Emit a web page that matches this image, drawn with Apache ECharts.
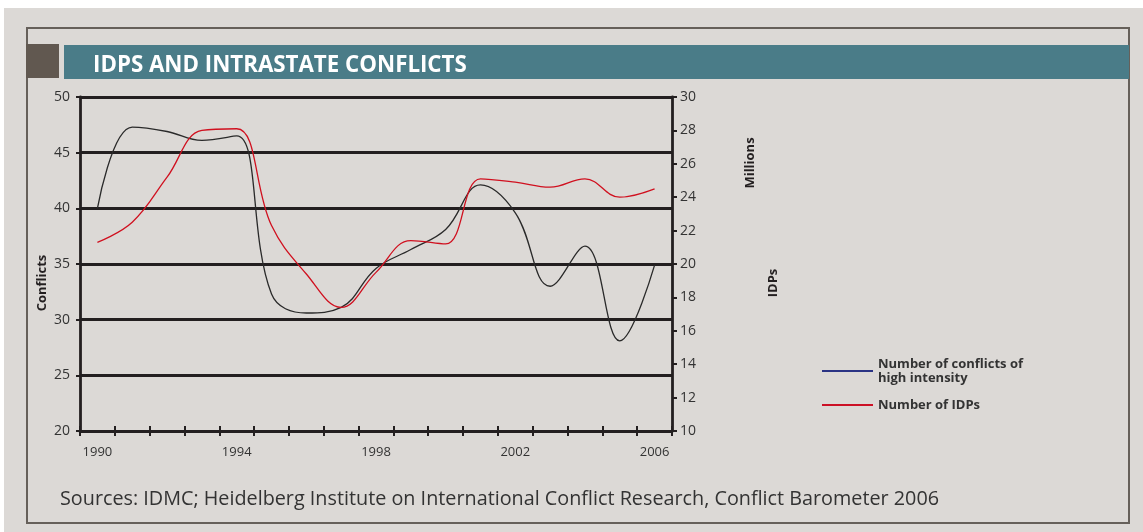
<!DOCTYPE html>
<html>
<head>
	<title>IDPS AND INTRASTATE CONFLICTS</title>
	<script src="https://cdn.jsdelivr.net/npm/echarts@6/dist/echarts.min.js"></script>
	<style type="text/css">
		body{
			margin: 0;
			background-color: #ffffff;
		}
		#chart{
			width: 1143px;
			height: 532px;
		}
	</style>
	<script type="text/javascript">
		// values, one per year
		var years = ['1990','1991','1992','1993','1994','1995','1996','1997','1998','1999','2000','2001','2002','2003','2004','2005','2006'];
		var conflicts = [40, 47.3, 46.9, 46.1, 46.5, 32.3, 30.6, 31.1, 34.6, 36.3, 38.1, 42.1, 39.6, 33.0, 36.6, 28.1, 34.9];
		var idps = [21.3, 22.5, 25.2, 28.0, 28.1, 22.3, 19.4, 17.4, 19.5, 21.4, 21.2, 25.1, 24.9, 24.6, 25.1, 24.0, 24.5];
		var conflictTicks = [20, 50, 5];   // min, max, step
		var idpTicks = [10, 30, 2];

		var ink = '#231f20';
		var font = 'Open Sans';

		function generateChart(){
			var myChart = echarts.init(document.getElementById('chart'));
			var option = {
				backgroundColor: '#dcd9d6',
				animation: false,
				textStyle: {fontFamily: font},
				grid: {left: 80, right: 471, top: 97, bottom: 101},
				legend: {
					orient: 'vertical',
					left: 817,
					top: 347,
					itemWidth: 51,
					itemHeight: 2,
					itemGap: 3,
					icon: 'rect',
					textStyle: {fontSize: 13, fontWeight: 'bold', color: '#333', lineHeight: 14, padding: [0, 0, 0, 0]},
					data: [
						{name: 'Number of conflicts of\nhigh intensity', itemStyle: {color: '#2b3384'}},
						{name: 'Number of IDPs', itemStyle: {color: '#cc1126'}}
					]
				},
				xAxis: [
					{
						type: 'category',
						data: years,
						boundaryGap: true,
						axisLine: {lineStyle: {color: ink, width: 2.8}},
						axisTick: {show: true, length: 5, interval: 0, lineStyle: {color: ink, width: 2}},
						axisLabel: {interval: 3, color: '#333', fontSize: 13, margin: 11}
					},
					{
						// inner half of the ticks, they cross the axis line
						type: 'category',
						data: years,
						position: 'bottom',
						boundaryGap: true,
						axisLine: {show: false},
						axisTick: {show: true, inside: true, length: 5, interval: 0, lineStyle: {color: ink, width: 2}},
						axisLabel: {show: false}
					}
				],
				yAxis: [
					{
						type: 'value',
						min: conflictTicks[0],
						max: conflictTicks[1],
						interval: conflictTicks[2],
						axisLine: {show: true, lineStyle: {color: ink, width: 2.8}},
						axisTick: {show: true, length: 4, lineStyle: {color: ink, width: 2}},
						axisLabel: {color: '#333', fontSize: 14, margin: 10},
						splitLine: {lineStyle: {color: ink, width: 2.8}}
					},
					{
						type: 'value',
						position: 'right',
						min: idpTicks[0],
						max: idpTicks[1],
						interval: idpTicks[2],
						axisLine: {show: true, lineStyle: {color: ink, width: 2.8}},
						axisTick: {show: true, length: 5, lineStyle: {color: ink, width: 2}},
						axisLabel: {color: '#333', fontSize: 14, margin: 8},
						splitLine: {show: false}
					}
				],
				series: [
					{
						name: 'Number of conflicts of\nhigh intensity',
						type: 'line',
						data: conflicts,
						yAxisIndex: 0,
						smooth: 0.4,
						showSymbol: false,
						color: '#2b3384',
						lineStyle: {color: '#2a2a2a', width: 1.3},
						z: 3
					},
					{
						name: 'Number of IDPs',
						type: 'line',
						data: idps,
						yAxisIndex: 1,
						smooth: 0.4,
						showSymbol: false,
						color: '#cc1126',
						lineStyle: {color: '#d0101f', width: 1.3},
						z: 4
					}
				],
				graphic: [
					{type: 'rect', shape: {x: 0, y: 0, width: 1143, height: 8}, style: {fill: '#ffffff'}, silent: true},
					{type: 'rect', shape: {x: 0, y: 0, width: 4, height: 532}, style: {fill: '#ffffff'}, silent: true},
					{type: 'rect', shape: {x: 27, y: 28, width: 1102, height: 495}, style: {fill: 'none', stroke: '#66605a', lineWidth: 2}, silent: true},
					{type: 'rect', shape: {x: 26, y: 44, width: 33, height: 34}, style: {fill: '#615850'}, silent: true},
					{type: 'rect', shape: {x: 64, y: 45, width: 1065, height: 34}, style: {fill: '#4a7c88'}, silent: true},
					{type: 'text', left: 93, top: 45, style: {text: 'IDPS AND INTRASTATE CONFLICTS', fill: '#ffffff', font: 'bold 22.3px "Open Sans"'}, silent: true},
					{type: 'text', x: 42, y: 283, rotation: Math.PI / 2, style: {text: 'Conflicts', fill: ink, font: 'bold 13px "Open Sans"', align: 'center', verticalAlign: 'middle'}, silent: true},
					{type: 'text', x: 750, y: 163, rotation: Math.PI / 2, style: {text: 'Millions', fill: ink, font: 'bold 13px "Open Sans"', align: 'center', verticalAlign: 'middle'}, silent: true},
					{type: 'text', x: 773, y: 283, rotation: Math.PI / 2, style: {text: 'IDPs', fill: ink, font: 'bold 13px "Open Sans"', align: 'center', verticalAlign: 'middle'}, silent: true},
					{type: 'text', left: 60, top: 483, style: {text: 'Sources: IDMC; Heidelberg Institute on International Conflict Research, Conflict Barometer 2006', fill: '#333', font: '19.8px "Open Sans"'}, silent: true}
				]
			};
			myChart.setOption(option);
		}
		window.onload = function(){
			generateChart();
		};
	</script>
</head>
<body>
	<div id="chart"></div>
</body>
</html>
